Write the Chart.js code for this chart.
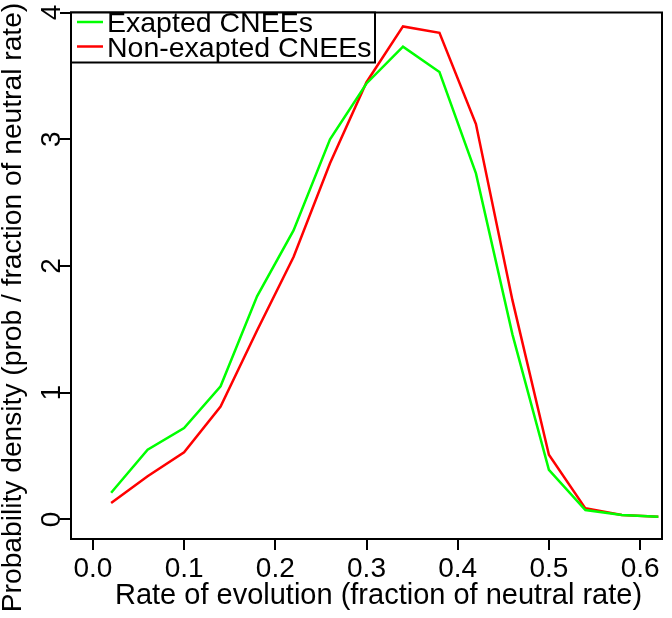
<!DOCTYPE html>
<html><head><meta charset="utf-8">
<script src="https://cdn.jsdelivr.net/npm/chart.js@4/dist/chart.umd.min.js"></script>
<style>html,body{margin:0;padding:0;background:#fff}#wrap{width:672px;height:618px}</style>
</head><body><div id="wrap"><canvas id="c" width="672" height="618"></canvas></div>
<script>
const rates = [0.02,0.06,0.10,0.14,0.18,0.22,0.26,0.30,0.34,0.38,0.42,0.46,0.50,0.54,0.58,0.62];
const exapted = [0.21,0.55,0.72,1.05,1.76,2.28,3.00,3.44,3.73,3.53,2.73,1.46,0.39,0.073,0.034,0.02];
const nonExapted = [0.13,0.34,0.53,0.89,1.49,2.07,2.81,3.45,3.89,3.84,3.12,1.73,0.51,0.087,0.034,0.02];
const xTicks = [0,0.1,0.2,0.3,0.4,0.5,0.6];
const yTicks = [0,1,2,3,4];
const seriesNames = ['Exapted CNEEs','Non-exapted CNEEs'];
const seriesColors = ['#00ff00','#ff0000'];
const xTitle = 'Rate of evolution (fraction of neutral rate)';
const yTitle = 'Probability density (prob / fraction of neutral rate)';

const FONT = '"Liberation Sans", Arial, Helvetica, sans-serif';
const FS_TICK = 28;
const FS_TITLE = 29;
const FS_YTITLE = 28.2;
const FS_LEG = 28.5;

const decor = {
  id: 'decor',
  afterDatasetsDraw(chart) {
    const {ctx, chartArea: a} = chart;
    ctx.save();
    ctx.strokeStyle = '#000';
    ctx.lineWidth = 2;
    ctx.strokeRect(a.left, a.top, a.right - a.left, a.bottom - a.top);
    const lx = a.left, ly = a.top, lw = 304, lh = 50;
    ctx.fillStyle = '#fff';
    ctx.fillRect(lx, ly, lw, lh);
    ctx.strokeRect(lx, ly, lw, lh);
    ctx.font = FS_LEG + 'px ' + FONT;
    ctx.textAlign = 'left';
    ctx.textBaseline = 'alphabetic';
    chart.data.datasets.forEach((ds, i) => {
      const y = ly + 9.5 + i * 24.5;
      ctx.strokeStyle = ds.borderColor;
      ctx.lineWidth = 2.5;
      ctx.beginPath();
      ctx.moveTo(lx + 6, y);
      ctx.lineTo(lx + 32, y);
      ctx.stroke();
      ctx.fillStyle = '#000';
      ctx.fillText(ds.label, lx + 36, y + 10);
    });
    ctx.restore();
  },
  afterDraw(chart) {
    const {ctx, chartArea: a} = chart;
    const ys = chart.scales.y;
    ctx.save();
    ctx.fillStyle = '#000';
    ctx.font = FS_TICK + 'px ' + FONT;
    ctx.textAlign = 'center';
    ctx.textBaseline = 'alphabetic';
    yTicks.forEach(v => {
      const py = ys.getPixelForValue(v);
      ctx.save();
      ctx.translate(a.left - 11, py);
      ctx.rotate(-Math.PI / 2);
      ctx.fillText(String(v), 0, 0);
      ctx.restore();
    });
    ctx.font = FS_YTITLE + 'px ' + FONT;
    ctx.save();
    ctx.translate(21, 307.5);
    ctx.rotate(-Math.PI / 2);
    ctx.fillText(yTitle, 0, 0);
    ctx.restore();
    ctx.font = FS_TITLE + 'px ' + FONT;
    ctx.fillText(xTitle, 378.5, 604);
    ctx.restore();
  }
};

new Chart(document.getElementById('c'), {
  type: 'line',
  data: {
    datasets: [
      {label: seriesNames[0], data: rates.map((x, i) => ({x, y: exapted[i]})), borderColor: seriesColors[0], backgroundColor: seriesColors[0], borderWidth: 2.5, pointRadius: 0, tension: 0, fill: false},
      {label: seriesNames[1], data: rates.map((x, i) => ({x, y: nonExapted[i]})), borderColor: seriesColors[1], backgroundColor: seriesColors[1], borderWidth: 2.5, pointRadius: 0, tension: 0, fill: false}
    ]
  },
  options: {
    responsive: false,
    animation: false,
    devicePixelRatio: 1,
    layout: {padding: {left: 0, top: 12.5, right: 10, bottom: 0}},
    plugins: {legend: {display: false}, tooltip: {enabled: false}},
    scales: {
      x: {
        type: 'linear', min: -0.024, max: 0.624,
        afterBuildTicks: s => { s.ticks = xTicks.map(v => ({value: v})); },
        afterFit: s => { s.height = 79; },
        grid: {display: true, drawOnChartArea: false, drawTicks: true, tickLength: 11, color: '#000', lineWidth: 2},
        border: {display: false},
        ticks: {color: '#000', font: {family: FONT, size: FS_TICK}, padding: 2, maxRotation: 0, autoSkip: false,
                callback: v => Number(v).toFixed(1)},
        title: {display: false}
      },
      y: {
        type: 'linear', min: -0.155, max: 4.0,
        afterBuildTicks: s => { s.ticks = yTicks.map(v => ({value: v})); },
        afterFit: s => { s.width = 71; },
        grid: {display: true, drawOnChartArea: false, drawTicks: true, tickLength: 11, color: '#000', lineWidth: 2},
        border: {display: false},
        ticks: {display: false}
      }
    }
  },
  plugins: [decor]
});
</script>
</body></html>
